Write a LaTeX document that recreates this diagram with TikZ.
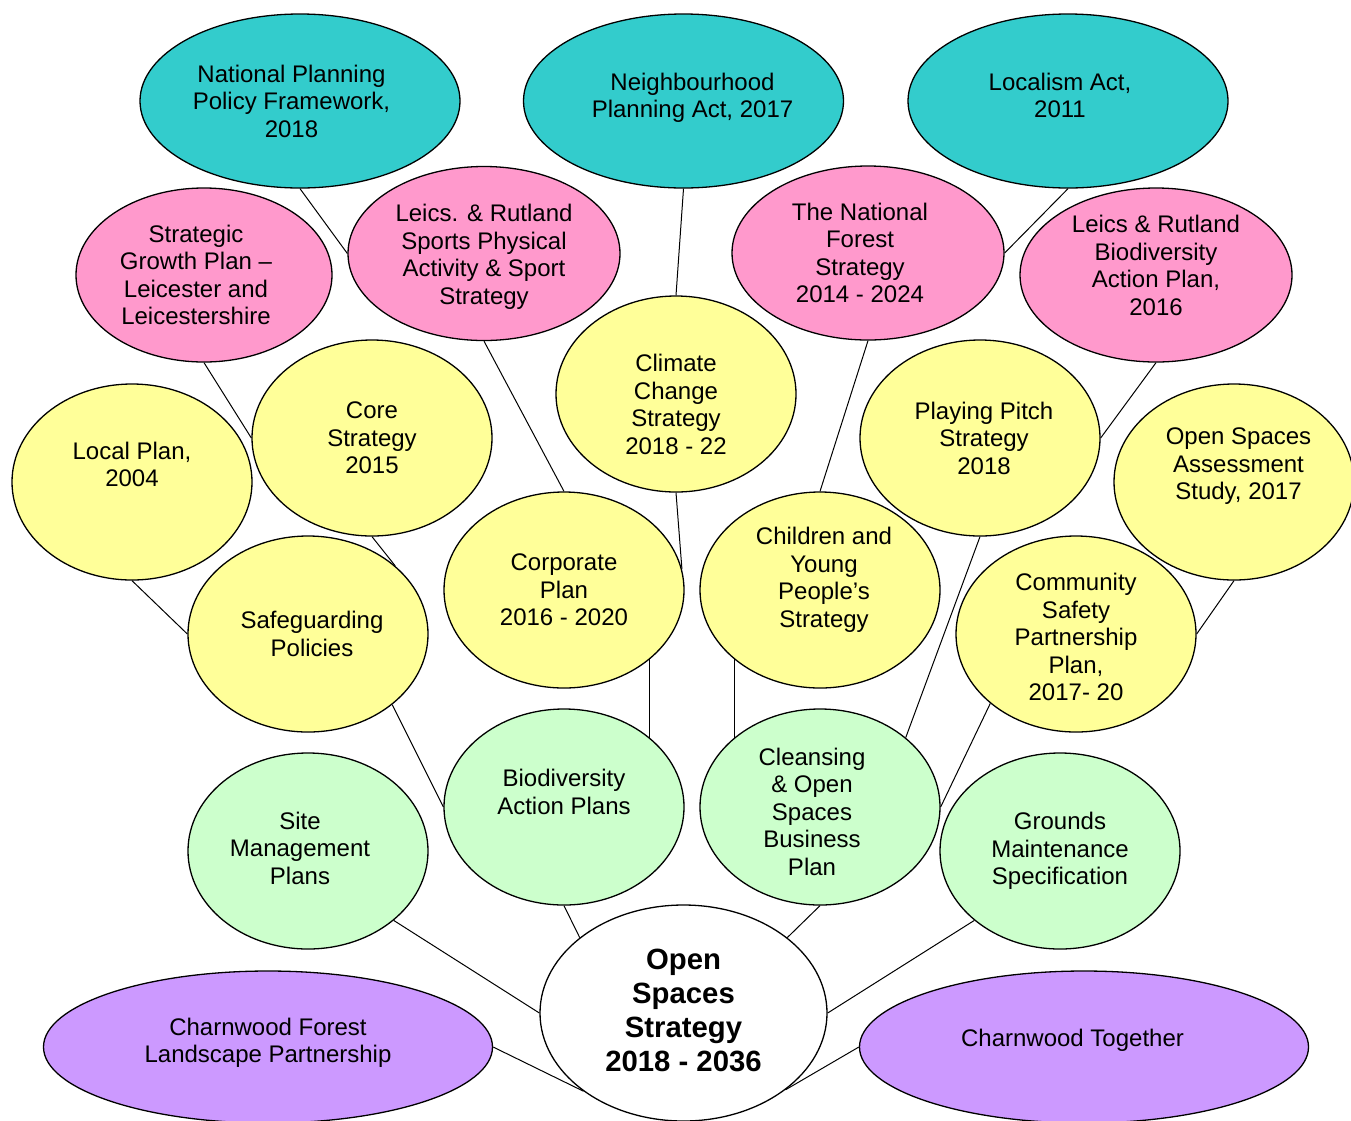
\documentclass[tikz,border=0pt]{standalone}
\usepackage{fontspec}
\setmainfont{Liberation Sans}
\definecolor{ActTeal}{RGB}{51, 204, 204}
\definecolor{StratPink}{RGB}{255, 153, 204}
\definecolor{PlanYellow}{RGB}{255, 255, 153}
\definecolor{OpsGreen}{RGB}{204, 255, 204}
\definecolor{PartPurple}{RGB}{204, 153, 255}
\usepackage{tikz}
\usetikzlibrary{shapes.geometric}

\begin{document}
\begin{tikzpicture}[
  x=1pt, y=-1pt,
  bubble/.style={
    ellipse, draw=black, line width=1.3pt, inner sep=0pt,
    align=center, font=\fontsize{24}{27.5}\selectfont
  },
  act/.style={bubble, fill=ActTeal, minimum width=320pt, minimum height=174pt},
  strat/.style={bubble, fill=StratPink, minimum width=272pt, minimum height=174pt},
  plan/.style={bubble, fill=PlanYellow, minimum width=240pt, minimum height=196pt},
  ops/.style={bubble, fill=OpsGreen, minimum width=240pt, minimum height=196pt},
  partner/.style={bubble, fill=PartPurple, minimum width=449pt, minimum height=152pt},
  core/.style={bubble, fill=white, minimum width=287pt, minimum height=216pt,
    font=\fontsize{29.3}{34}\selectfont\bfseries},
  lift/.style={text depth=#1},
  drop/.style={text height=#1},
  nudge/.style={execute at begin node={\hspace*{#1}}},
  link/.style={line width=1pt},
]
\useasboundingbox (0,0) rectangle (1351,1120);

% acts
\node[act, nudge=-17pt] (nppf) at (300,101) {National Planning\\Policy Framework,\\2018};
\node[act, lift=11pt, nudge=18pt] (nbhd) at (683.5,101) {Neighbourhood\\Planning Act, 2017};
\node[act, lift=11pt, nudge=-16pt] (localism) at (1068,101) {Localism Act,\\2011};

% county strategies
\node[strat, minimum width=256pt, nudge=-16pt] (growth) at (204,275) {Strategic\\Growth Plan –\\Leicester and\\Leicestershire};
\node[strat, drop=106pt] (sport) at (484,253.5) {Leics. \& Rutland\\Sports Physical\\Activity \& Sport\\Strategy};
\node[strat, nudge=-16pt] (forest) at (868,253) {The National\\Forest\\Strategy\\2014 - 2024};
\node[strat, lift=19pt] (biodiv) at (1156,275) {Leics \& Rutland\\Biodiversity\\Action Plan,\\2016};

% local plans
\node[plan, lift=35pt] (localplan) at (132,482) {Local Plan,\\2004};
\node[plan] (corestrat) at (372,438) {Core\\Strategy\\2015};
\node[plan, drop=121pt] (climate) at (676,394) {Climate\\Change\\Strategy\\2018 - 22};
\node[plan, nudge=8pt] (pitch) at (980,438) {Playing Pitch\\Strategy\\2018};
\node[plan, lift=36pt, nudge=9pt] (assess) at (1234,482) {Open Spaces\\Assessment\\Study, 2017};
\node[plan, nudge=8pt] (safeguard) at (308,634) {Safeguarding\\Policies};
\node[plan] (corporate) at (564,590) {Corporate\\Plan\\2016 - 2020};
\node[plan, lift=25pt, nudge=8pt] (children) at (820,590) {Children and\\Young\\People’s\\Strategy};
\node[plan, drop=133.5pt] (safety) at (1076,634) {Community\\Safety\\Partnership\\Plan,\\2017- 20};

% operational plans
\node[ops, lift=6pt, nudge=-16pt] (sitemgmt) at (308,851) {Site\\Management\\Plans};
\node[ops, lift=30pt] (bap) at (564,807) {Biodiversity\\Action Plans};
\node[ops, drop=136.5pt, nudge=-16pt] (cleansing) at (820,807) {Cleansing\\\& Open\\Spaces\\Business\\Plan};
\node[ops] (grounds) at (1060,851) {Grounds\\Maintenance\\Specification};

% centre and partners
\node[core, lift=6pt] (oss) at (683.5,1013) {Open\\Spaces\\Strategy\\2018 - 2036};
\node[partner, lift=13pt] (forestlp) at (268,1047) {Charnwood Forest\\Landscape Partnership};
\node[partner, lift=18pt, nudge=-23pt] (together) at (1084,1047) {Charnwood Together};

% connectors
\draw[link] (nppf.south) -- (sport.west);
\draw[link] (growth.south) -- (corestrat.west);
\draw[link] (sport.south) -- (corporate.north);
\draw[link] (nbhd.south) -- (climate.north);
\draw[link] (localism.south) -- (forest.east);
\draw[link] (forest.south) -- (children.north);
\draw[link] (biodiv.south) -- (pitch.east);
\draw[link] (localplan.south) -- (safeguard.west);
\draw[link] (corestrat.south) -- (safeguard.38);
\draw[link] (climate.south) -- (corporate.10);
\draw[link] (pitch.south) -- (cleansing.39);
\draw[link] (assess.south) -- (safety.east);
\draw[link] (safeguard.320) -- (bap.west);
\draw[link] (corporate.321) -- (bap.39);
\draw[link] (children.219) -- (cleansing.141);
\draw[link] (safety.219) -- (cleansing.east);
\draw[link] (sitemgmt.321) -- (oss.west);
\draw[link] (bap.south) -- (oss.144);
\draw[link] (cleansing.south) -- (oss.36);
\draw[link] (grounds.219) -- (oss.east);
\draw[link] (forestlp.east) -- (oss.218);
\draw[link] (together.west) -- (oss.323);
\end{tikzpicture}
\end{document}
